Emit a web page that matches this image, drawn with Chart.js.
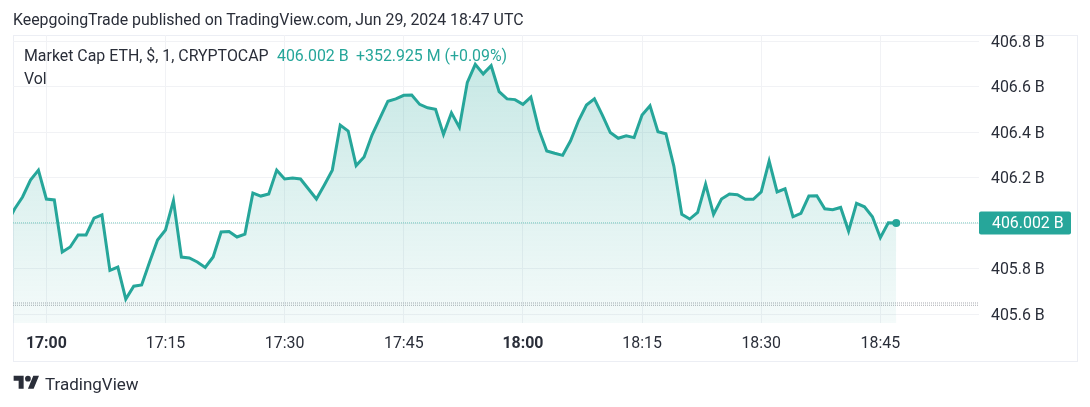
<!DOCTYPE html>
<html>
<head>
<meta charset="utf-8">
<script src="https://cdn.jsdelivr.net/npm/chart.js@4"></script>
<style>
  html, body { margin: 0; padding: 0; background: #fff; }
  body { width: 1090px; height: 407px; position: relative; overflow: hidden; font-family: Roboto, sans-serif; color: #2a2e39; }
  .abs { position: absolute; white-space: nowrap; line-height: 20px; font-size: 15.9px; }
  #frame { position: absolute; left: 13px; top: 35px; width: 1063px; height: 325px; border: 1px solid #eceef4; box-sizing: content-box; }
  canvas { position: absolute; left: 0; top: 0; }
  .up { color: #26a69a; }
</style>
</head>
<body>
<div id="frame"></div>
<canvas id="mcapChart" width="1090" height="407"></canvas>
<div class="abs" style="left:13px;top:10px">KeepgoingTrade published on TradingView.com, Jun 29, 2024 18:47 UTC</div>
<div class="abs" style="left:24px;top:46px">Market Cap ETH, $, 1, CRYPTOCAP</div>
<div class="abs up" style="left:277px;top:46px">406.002 B</div>
<div class="abs up" style="left:356px;top:46px">+352.925 M (+0.09%)</div>
<div class="abs" style="left:24px;top:69px">Vol</div>
<svg class="abs" style="left:13px;top:373px" width="27" height="20" viewBox="0 0 36 28" fill="#2a2e39">
  <path d="M14 22H7V11H0V4h14v18zM28 22h-8l7.5-18h8L28 22z"/><circle cx="20" cy="8" r="4"/>
</svg>
<div class="abs" style="left:45px;top:374px;font-size:17px">TradingView</div>

<script>
// minutes from 17:00 of the first sample, one sample per minute
const firstMinute = -5;
const capValues = [
  405.997, 406.063, 406.116, 406.190, 406.234, 406.107, 406.103, 405.874, 405.896, 405.949,
  405.949, 406.023, 406.037, 405.793, 405.808, 405.667, 405.724, 405.729, 405.830, 405.927,
  405.971, 406.100, 405.852, 405.848, 405.830, 405.806, 405.852, 405.962, 405.964, 405.940,
  405.953, 406.133, 406.120, 406.129, 406.234, 406.195, 406.199, 406.195, 406.151, 406.107,
  406.169, 406.234, 406.432, 406.406, 406.254, 406.292, 406.388, 406.463, 406.537, 406.547,
  406.563, 406.564, 406.523, 406.508, 406.501, 406.391, 406.486, 406.422, 406.620, 406.699,
  406.657, 406.693, 406.579, 406.547, 406.544, 406.523, 406.555, 406.413, 406.318, 406.308,
  406.299, 406.363, 406.451, 406.520, 406.547, 406.476, 406.399, 406.374, 406.385, 406.377,
  406.476, 406.517, 406.403, 406.394, 406.252, 406.040, 406.019, 406.048, 406.172, 406.040,
  406.107, 406.129, 406.126, 406.106, 406.106, 406.138, 406.274, 406.138, 406.152, 406.029,
  406.044, 406.120, 406.121, 406.064, 406.060, 406.070, 405.966, 406.088, 406.073, 406.029,
  405.937, 406.003, 406.002
];
const xTicks = [0, 15, 30, 45, 60, 75, 90, 105];
const xTickLabels = ['17:00', '17:15', '17:30', '17:45', '18:00', '18:15', '18:30', '18:45'];
const yTicks = [405.6, 405.8, 406.0, 406.2, 406.4, 406.6, 406.8];
const lastPrice = 406.002;
const lastPriceLabel = '406.002 B';
const volLevels = [405.65, 405.64];

const xMin = -4.2;
const xMax = 117.42;
const teal = '#26a69a';

function levelLine(value, color) {
    return {
        data: [{ x: xMin, y: value }, { x: xMax, y: value }],
        borderColor: color,
        borderWidth: 1,
        borderDash: [1, 1],
        pointRadius: 0,
        fill: false
    };
}

// price tag sitting on the right axis
const priceTag = {
    id: 'priceTag',
    afterDraw(chart) {
        const ctx = chart.ctx;
        const y = chart.scales.y.getPixelForValue(lastPrice);
        ctx.save();
        ctx.fillStyle = teal;
        ctx.beginPath();
        ctx.roundRect(chart.chartArea.right, y - 11.5, 92, 23, 2);
        ctx.fill();
        ctx.fillStyle = '#fff';
        ctx.font = '15.9px Roboto';
        ctx.textBaseline = 'middle';
        ctx.fillText(lastPriceLabel, chart.chartArea.right + 13, y + 1.5);
        ctx.restore();
    }
};

const lastIndex = capValues.length - 1;

new Chart(document.getElementById('mcapChart').getContext('2d'), {
    type: 'line',
    data: {
        datasets: [
            {
                data: capValues.map((v, i) => ({ x: firstMinute + i, y: v })),
                borderColor: teal,
                borderWidth: 3,
                borderJoinStyle: 'miter',
                tension: 0,
                fill: 'start',
                backgroundColor(context) {
                    const area = context.chart.chartArea;
                    if (!area) return 'transparent';
                    const g = context.chart.ctx.createLinearGradient(0, area.top, 0, area.bottom);
                    g.addColorStop(0, 'rgba(38, 166, 154, 0.28)');
                    g.addColorStop(1, 'rgba(38, 166, 154, 0.05)');
                    return g;
                },
                pointBackgroundColor: teal,
                pointBorderWidth: 0,
                pointRadius: (c) => (c.dataIndex === lastIndex ? 4 : 0)
            },
            levelLine(lastPrice, '#7ccbc1'),
            levelLine(volLevels[0], '#a9abb0'),
            levelLine(volLevels[1], '#a9abb0')
        ]
    },
    options: {
        responsive: false,
        animation: false,
        layout: { padding: { left: 13, top: 35, right: 13, bottom: 47 } },
        plugins: { legend: { display: false }, tooltip: { enabled: false } },
        scales: {
            x: {
                type: 'linear',
                min: xMin,
                max: xMax,
                afterBuildTicks(axis) { axis.ticks = xTicks.map((value) => ({ value })); },
                afterFit(axis) { axis.height = 37; },
                grid: { color: '#f1f2f5', tickLength: 0 },
                border: { display: false },
                ticks: {
                    autoSkip: false,
                    maxRotation: 0,
                    padding: 11,
                    color: '#2a2e39',
                    font: (c) => ({
                        family: 'Roboto',
                        size: 15.9,
                        weight: c.tick && c.tick.value % 60 === 0 ? 'bold' : 'normal'
                    }),
                    callback: (value) => xTickLabels[xTicks.indexOf(value)]
                }
            },
            y: {
                position: 'right',
                min: 405.562,
                max: 406.828,
                afterBuildTicks(axis) { axis.ticks = yTicks.map((value) => ({ value })); },
                afterFit(axis) { axis.width = 98; },
                grid: { color: '#f1f2f5', tickLength: 0 },
                border: { display: false },
                ticks: {
                    padding: 12,
                    labelOffset: 1.5,
                    color: '#2a2e39',
                    font: { family: 'Roboto', size: 15.9 },
                    callback: (value) => value.toFixed(1) + ' B'
                }
            }
        }
    },
    plugins: [priceTag]
});
</script>
</body>
</html>
